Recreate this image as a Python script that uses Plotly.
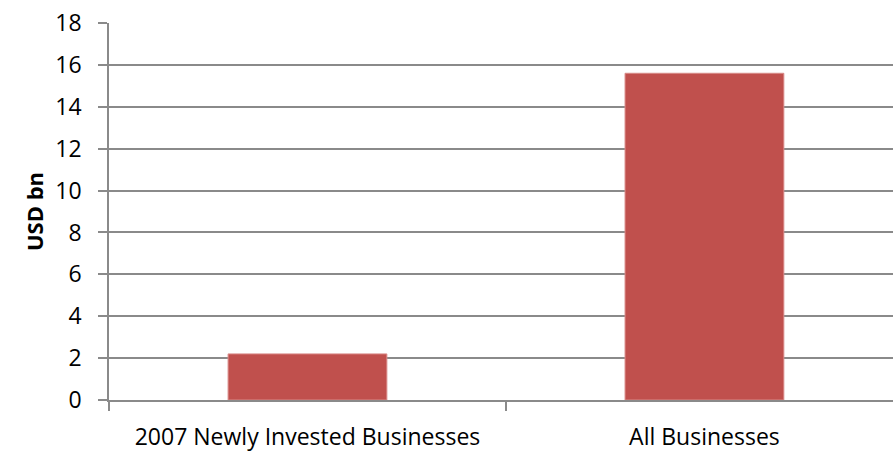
import plotly.graph_objects as go

categories = ["2007 Newly Invested Businesses", "All Businesses"]
values = [2.2, 15.6]
y_ticks = [0, 2, 4, 6, 8, 10, 12, 14, 16, 18]

fig = go.Figure()
fig.add_trace(go.Bar(
    x=categories, y=values, width=0.4,
    marker=dict(color="#C0504D", line=dict(color="#D98A88", width=1)),
))

grid = "#8A8A8A"
fig.update_layout(
    width=893, height=455,
    margin=dict(l=109, r=0, t=23, b=55),
    paper_bgcolor="white", plot_bgcolor="white",
    showlegend=False,
    font=dict(family="'Open Sans', sans-serif", color="#000000", size=20),
)
fig.update_xaxes(
    type="category", range=[-0.5, 1.475],
    tickson="boundaries", ticks="outside", ticklen=9, tickcolor=grid, tickwidth=1.5,
    showline=True, linecolor=grid, linewidth=1.5,
    showgrid=False, ticklabelstandoff=16,
    tickfont=dict(size=23),
)
fig.update_yaxes(
    range=[0, 18], tickvals=y_ticks,
    ticks="outside", ticklen=9, tickcolor=grid, tickwidth=1.5,
    showline=True, linecolor=grid, linewidth=1.5,
    showgrid=True, gridcolor=grid, gridwidth=1.5,
    zeroline=False, ticklabelstandoff=12,
    tickfont=dict(size=23),
    title=dict(text="<b>USD bn</b>", font=dict(size=22), standoff=6),
)
fig.write_html("out.html")
